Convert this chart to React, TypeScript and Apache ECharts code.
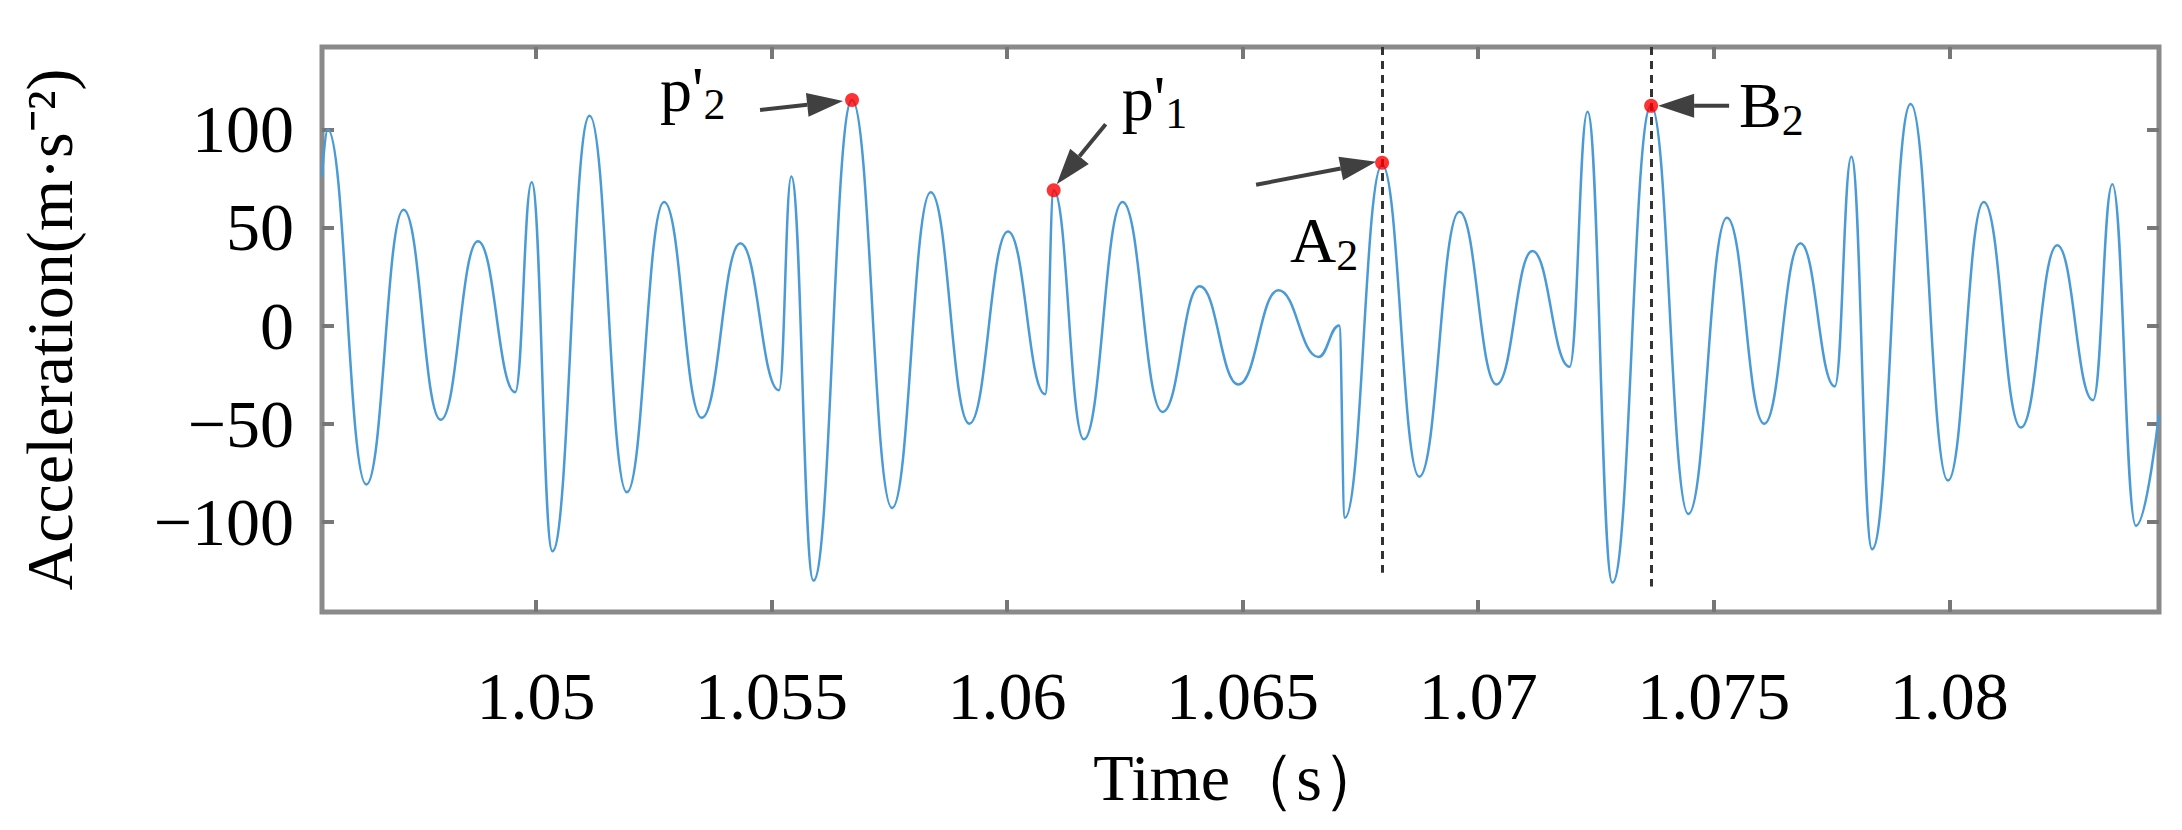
import React, { useEffect, useRef } from "react";
import * as echarts from "echarts";

// extrema of the trace: time (s), acceleration (m·s⁻²)
const times = [
  1.04546, 1.04558, 1.0464, 1.04719, 1.04798, 1.04877, 1.04956, 1.04991, 1.05035, 1.05114, 1.05193,
  1.05272, 1.05352, 1.05434, 1.05516, 1.05542, 1.05589, 1.05671, 1.05756, 1.05838, 1.0592, 1.06002,
  1.06081, 1.06099, 1.06163, 1.06245, 1.0633, 1.06409, 1.06491, 1.06576, 1.06661, 1.06705, 1.06717,
  1.06796, 1.06875, 1.0696, 1.07039, 1.07115, 1.07194, 1.07232, 1.07285, 1.07367, 1.07446, 1.07528,
  1.07607, 1.07684, 1.07757, 1.07792, 1.07836, 1.07918, 1.07997, 1.08073, 1.08152, 1.08229, 1.08305,
  1.08346, 1.08396, 1.08445,
];
const accel = [
  76, 100, -81, 59, -48, 43, -34, 73, -115, 107, -85, 63, -47, 42, -33, 76, -130, 115, -93, 68, -50, 48,
  -35, 69, -58, 63, -44, 20, -30, 18, -16, 0, -98, 82, -77, 58, -30, 38, -21, 109, -131, 112, -96, 55,
  -50, 42, -31, 86, -114, 113, -79, 63, -52, 41, -38, 72, -102, -45,
];
const xTicks = [1.05, 1.055, 1.06, 1.065, 1.07, 1.075, 1.08];
const yTicks = [-100, -50, 0, 50, 100];

const markers = [
  { name: "p'", sub: "2", t: 1.05671, v: 115 },
  { name: "p'", sub: "1", t: 1.06099, v: 69 },
  { name: "A", sub: "2", t: 1.06796, v: 83 },
  { name: "B", sub: "2", t: 1.07367, v: 112 },
];
const dashed = [
  { t: 1.06796, bottom: -126 },
  { t: 1.07367, bottom: -133 },
];

const App: React.FC = () => {
  const chartRef = useRef<HTMLDivElement | null>(null);

  useEffect(() => {
    if (!chartRef.current) return;
    const chart = echarts.init(chartRef.current, null, { renderer: "svg" });
    const data = accel.map((v, i) => [times[i], v]);
    const font = "'Liberation Serif', 'Times New Roman', serif";
    const tick = { inside: true, length: 12, lineStyle: { color: "#777", width: 4 } };

    chart.setOption({
      animation: false,
      grid: {
        left: 304, right: 15, top: 39, bottom: 210,
        show: true, borderColor: "#8a8a8a", borderWidth: 5,
      },
      xAxis: [
        {
          type: "value", min: 1.04546, max: 1.08445,
          name: "Time（s）", nameLocation: "middle", nameGap: 132,
          nameTextStyle: { fontFamily: font, fontSize: 66, color: "#000" },
          axisLine: { show: false, onZero: false },
          splitLine: { show: false },
          axisTick: { ...tick, customValues: xTicks },
          axisLabel: { customValues: xTicks, fontFamily: font, fontSize: 68, color: "#000", margin: 50,
            formatter: (v: number) => String(Number(v.toFixed(3))) },
        },
        {
          type: "value", min: 1.04546, max: 1.08445, position: "top",
          axisLine: { show: false, onZero: false }, splitLine: { show: false }, axisLabel: { show: false },
          axisTick: { ...tick, customValues: xTicks },
        },
      ],
      yAxis: [
        {
          type: "value", min: -146, max: 142,
          name: "Acceleration(m·s⁻²)", nameLocation: "middle", nameGap: 240,
          nameTextStyle: { fontFamily: font, fontSize: 66, color: "#000" },
          axisLine: { show: false, onZero: false }, splitLine: { show: false },
          axisTick: { ...tick, customValues: yTicks },
          axisLabel: { customValues: yTicks, fontFamily: font, fontSize: 68, color: "#000", margin: 28,
            formatter: (v: number) => (v < 0 ? "−" + -v : String(v)) },
        },
        {
          type: "value", min: -146, max: 142, position: "right",
          axisLine: { show: false, onZero: false }, splitLine: { show: false }, axisLabel: { show: false },
          axisTick: { ...tick, customValues: yTicks },
        },
      ],
      series: [
        {
          type: "line", data, showSymbol: false, smooth: 0.45, smoothMonotone: "x",
          lineStyle: { color: "#4a9ad6", width: 2.5 },
          markLine: {
            silent: true, symbol: "none", label: { show: false },
            lineStyle: { type: [8, 6], color: "#333", width: 3 },
            data: dashed.map((d) => [{ coord: [d.t, 142] }, { coord: [d.t, d.bottom] }]),
          },
        },
        {
          type: "scatter", data: markers.map((m) => [m.t, m.v]), symbolSize: 14, z: 5,
          itemStyle: { color: "#ff0000" },
        },
      ],
    });

    // annotation arrows: tail, head and label offsets relative to the point (pixels)
    const arrows = [
      { tail: [-92, 10], head: [-9, 1], label: [-192, -10] },
      { tail: [52, -66], head: [3, -6], label: [68, -92] },
      { tail: [-126, 22], head: [-6, -1], label: [-92, 78] },
      { tail: [78, 0], head: [7, 0], label: [88, 0] },
    ];
    const graphic: any[] = [];
    markers.forEach((m, i) => {
      const p = chart.convertToPixel({ seriesIndex: 0 }, [m.t, m.v]) as number[];
      const a = arrows[i];
      const tx = p[0] + a.tail[0], ty = p[1] + a.tail[1];
      const hx = p[0] + a.head[0], hy = p[1] + a.head[1];
      const ang = Math.atan2(hy - ty, hx - tx);
      const L = 36, W = 12;
      const bx = hx - L * Math.cos(ang), by = hy - L * Math.sin(ang);
      graphic.push({
        type: "line", shape: { x1: tx, y1: ty, x2: bx, y2: by },
        style: { stroke: "#404040", lineWidth: 4 }, z: 10,
      });
      graphic.push({
        type: "polygon", z: 10,
        shape: { points: [[hx, hy], [bx - W * Math.sin(ang), by + W * Math.cos(ang)], [bx + W * Math.sin(ang), by - W * Math.cos(ang)]] },
        style: { fill: "#404040" },
      });
      graphic.push({
        type: "text", x: p[0] + a.label[0], y: p[1] + a.label[1], z: 10,
        style: {
          text: `{m|${m.name}}{s|${m.sub}}`, verticalAlign: "middle",
          rich: {
            m: { fontFamily: font, fontSize: 64, fill: "#000" },
            s: { fontFamily: font, fontSize: 44, fill: "#000", padding: [30, 0, 0, 0] },
          },
        },
      });
    });
    chart.setOption({ graphic });

    return () => chart.dispose();
  }, []);

  return <div ref={chartRef} style={{ width: "2166px", height: "814px" }} />;
};

export default App;
